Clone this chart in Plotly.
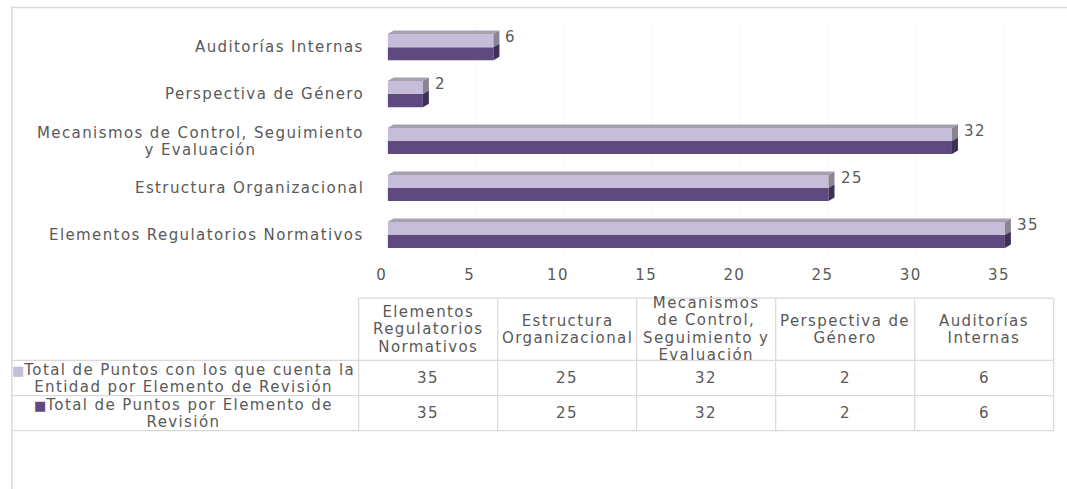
import plotly.graph_objects as go

# ---------------- data ----------------
categories = [
    "Elementos Regulatorios Normativos",
    "Estructura Organizacional",
    "Mecanismos de Control, Seguimiento y Evaluación",
    "Perspectiva de Género",
    "Auditorías Internas",
]
axis_labels = [
    "Elementos Regulatorios Normativos",
    "Estructura Organizacional",
    "Mecanismos de Control, Seguimiento<br>y Evaluación",
    "Perspectiva de Género",
    "Auditorías Internas",
]
table_headers = [
    "Elementos<br>Regulatorios<br>Normativos",
    "Estructura<br>Organizacional",
    "Mecanismos<br>de Control,<br>Seguimiento y<br>Evaluación",
    "Perspectiva de<br>Género",
    "Auditorías<br>Internas",
]
series_names = [
    "Total de Puntos con los que cuenta la<br>Entidad por Elemento de Revisión",
    "Total de Puntos por Elemento de<br>Revisión",
]
puntos_entidad = [35, 25, 32, 2, 6]
puntos_total = [35, 25, 32, 2, 6]
x_ticks = [0, 5, 10, 15, 20, 25, 30, 35]

# ---------------- style ----------------
W, H = 1067, 489
FONT = "DejaVu Sans"
TXT = "#595959"
LIGHT = "#c6bed8"
DARK = "#5e4a7e"
TOPF = "#a6a1ad"
SIDE_L = "#8a8592"
SIDE_D = "#3f3057"
GRID = "#d9d9d9"
FS = 15
LS = 1.4          # letter spacing, px
BASE = 13.3       # base size -> line spacing (1.3 * BASE)
SP = f"font-size:{FS}px;letter-spacing:{LS}px"

# the photographed page comes out slightly shifted/scaled horizontally;
# positions below are given in the reference picture's pixels and mapped back.
SX, OX, SY = 0.991, 9.9, 0.996


def px(x):
    return ((x - OX) / SX) / W


def py(y):
    return 1 - (y / SY) / H


def ml(text):
    return "<br>".join(f"<span style='{SP}'>{l}</span>" for l in text.split("<br>"))


x0_px, unit_px = 387, 17.66
xmax = 36
y_top_px, y_bot_px = 23.6, 257.4
bar_w = 0.278
dx = 6 / unit_px
dy = 3.5 / ((y_bot_px - y_top_px) / 5)

ypos = list(range(len(categories)))

fig = go.Figure()
fig.add_trace(go.Bar(
    y=ypos, x=puntos_total, orientation="h", name=series_names[1].replace("<br>", " "),
    marker=dict(color=DARK, line=dict(width=0)), showlegend=False,
    hovertemplate="%{x}<extra></extra>",
))
fig.add_trace(go.Bar(
    y=ypos, x=puntos_entidad, orientation="h", name=series_names[0].replace("<br>", " "),
    marker=dict(color=LIGHT, line=dict(width=0)), showlegend=False,
    hovertemplate="%{x}<extra></extra>",
))

shapes = []
annotations = []

for yc, vl, vd in zip(ypos, puntos_entidad, puntos_total):
    yt = yc + bar_w
    yb = yc - bar_w
    shapes.append(dict(type="path", xref="x", yref="y",
                       path=f"M 0 {yt} L {vl} {yt} L {vl+dx} {yt+dy} L {dx} {yt+dy} Z",
                       fillcolor=TOPF, line=dict(width=0), layer="above"))
    shapes.append(dict(type="path", xref="x", yref="y",
                       path=f"M {vl} {yc} L {vl} {yt} L {vl+dx} {yt+dy} L {vl+dx} {yc+dy} Z",
                       fillcolor=SIDE_L, line=dict(width=0), layer="above"))
    shapes.append(dict(type="path", xref="x", yref="y",
                       path=f"M {vd} {yb} L {vd} {yc} L {vd+dx} {yc+dy} L {vd+dx} {yb+dy} Z",
                       fillcolor=SIDE_D, line=dict(width=0), layer="above"))
    annotations.append(dict(x=vl + dx, y=yc + 0.22, xref="x", yref="y",
                            text=ml(str(vl)), showarrow=False, xanchor="left",
                            yanchor="middle", xshift=4,
                            font=dict(family=FONT, size=FS, color=TXT)))

for yc, lab in zip(ypos, axis_labels):
    annotations.append(dict(x=px(365), y=yc, xref="paper", yref="y",
                            text=ml(lab), showarrow=False, xanchor="right",
                            yanchor="middle", align="center",
                            font=dict(family=FONT, size=BASE, color=TXT)))

# ---------------- table ----------------
col_edges = [358 + 139.2 * i for i in range(6)]
row_edges = [297, 359, 394, 429]
left_px = 8
shapes.append(dict(type="line", xref="paper", yref="paper",
                   x0=px(col_edges[0]), x1=px(col_edges[-1]),
                   y0=py(row_edges[0]), y1=py(row_edges[0]),
                   line=dict(color=GRID, width=1.2)))
for r in row_edges[1:]:
    shapes.append(dict(type="line", xref="paper", yref="paper",
                       x0=0, x1=px(col_edges[-1]), y0=py(r), y1=py(r),
                       line=dict(color=GRID, width=1.2)))
for c in col_edges:
    shapes.append(dict(type="line", xref="paper", yref="paper",
                       x0=px(c), x1=px(c), y0=py(row_edges[0]), y1=py(row_edges[-1]),
                       line=dict(color=GRID, width=1.2)))
shapes.append(dict(type="rect", xref="paper", yref="paper",
                   x0=max(px(7.5), 0.8 / W), x1=px(W + 30), y0=py(7.5), y1=py(H + 20),
                   line=dict(color=GRID, width=1.5), fillcolor="rgba(0,0,0,0)",
                   layer="below"))

for i, h in enumerate(table_headers):
    cx = (col_edges[i] + col_edges[i + 1]) / 2
    annotations.append(dict(x=px(cx), y=py((row_edges[0] + row_edges[1]) / 2),
                            xref="paper", yref="paper", text=ml(h), showarrow=False,
                            xanchor="center", yanchor="middle", align="center",
                            font=dict(family=FONT, size=BASE, color=TXT)))

rows = [(series_names[0], LIGHT, puntos_entidad), (series_names[1], DARK, puntos_total)]
for r, (name, col, vals) in enumerate(rows):
    cy = (row_edges[r + 1] + row_edges[r + 2]) / 2
    lines = name.split("<br>")
    first = (f"<span style='color:{col};font-size:13px'>■</span>"
             f"<span style='{SP}'>{lines[0]}</span>")
    rest = [f"<span style='{SP}'>{l}</span>" for l in lines[1:]]
    annotations.append(dict(x=px((left_px + col_edges[0]) / 2), y=py(cy),
                            xref="paper", yref="paper",
                            text="<br>".join([first] + rest),
                            showarrow=False, xanchor="center", yanchor="middle",
                            align="center",
                            font=dict(family=FONT, size=BASE, color=TXT)))
    for i, v in enumerate(vals):
        cx = (col_edges[i] + col_edges[i + 1]) / 2
        annotations.append(dict(x=px(cx), y=py(cy), xref="paper", yref="paper",
                                text=ml(str(v)), showarrow=False, xanchor="center",
                                yanchor="middle",
                                font=dict(family=FONT, size=FS, color=TXT)))

fig.update_layout(
    width=W, height=H,
    margin=dict(l=0, r=0, t=0, b=0),
    paper_bgcolor="white", plot_bgcolor="white",
    barmode="group", bargap=1 - 2 * bar_w, bargroupgap=0,
    shapes=shapes, annotations=annotations,
    xaxis=dict(domain=[px(x0_px), px(x0_px + xmax * unit_px)],
               range=[0, xmax], tickvals=x_ticks,
               ticktext=[f"<span style='letter-spacing:{LS}px'>{t}</span>" for t in x_ticks],
               showgrid=True, gridcolor="#f8f8f8", zeroline=False, showline=False,
               ticks="", ticklabelstandoff=6, ticklabelshift=-6,
               tickfont=dict(family=FONT, size=FS, color=TXT)),
    yaxis=dict(domain=[py(y_bot_px), py(y_top_px)], range=[-0.5, 4.5],
               tickvals=ypos, showticklabels=False, showgrid=False,
               zeroline=False, showline=False, ticks=""),
    font=dict(family=FONT, size=FS, color=TXT),
)

fig.write_html(
    "out.html",
    config={"displayModeBar": False},
    post_script="document.body.style.margin='0';document.body.style.overflow='hidden';",
)
